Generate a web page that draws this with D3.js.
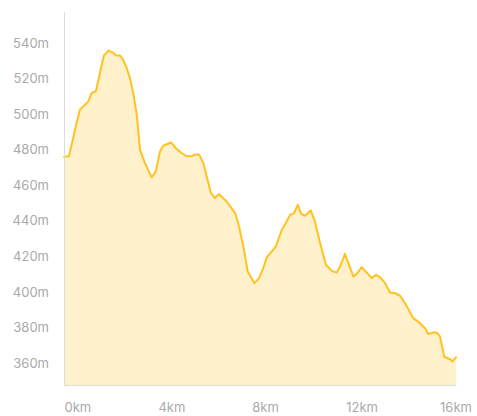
<!DOCTYPE html>
<html>
<head>
<meta charset="utf-8">
<script src="https://cdn.jsdelivr.net/npm/d3@7"></script>
<style>
  html, body { margin: 0; padding: 0; background: #fff; }
  svg { display: block; }
  text { font-family: Inter, "Liberation Sans", Arial, sans-serif; font-size: 13px; fill: #aaaaaa; }
</style>
</head>
<body>
<svg id="chart" width="477" height="416"></svg>
<script>
const distanceKm = [0.00,0.21,0.47,0.68,0.82,1.04,1.18,1.36,1.53,1.70,1.89,2.07,2.22,2.39,2.53,2.67,2.81,2.95,3.10,3.24,3.45,3.74,3.91,4.09,4.23,4.56,4.80,5.01,5.23,5.44,5.58,5.75,5.94,6.08,6.26,6.43,6.60,6.93,7.29,7.46,7.64,7.83,8.11,8.31,8.49,8.64,8.85,9.02,9.28,9.45,9.63,9.80,9.96,10.10,10.27,10.51,10.69,10.91,11.16,11.41,11.62,11.76,11.97,12.33,12.50,12.68,12.90,13.11,13.29,13.46,13.68,13.89,14.10,14.32,14.53,14.88,15.17,15.38,15.52,15.73,15.88,16.02,16.20,16.45,16.54,16.70];
const elevationM = [476.0,476.2,491.2,502.5,504.3,507.1,511.9,512.8,523.1,532.9,535.7,534.7,532.9,532.9,530.2,525.9,520.3,511.9,499.6,479.9,472.4,464.3,467.7,479.0,482.2,484.0,480.3,478.1,476.2,476.2,477.3,477.3,472.4,464.9,455.6,452.7,455.0,450.8,444.3,436.7,425.5,411.4,404.9,407.7,413.3,419.5,422.7,425.5,434.9,438.7,443.3,444.3,449.0,443.9,442.8,445.8,439.6,427.4,415.2,411.8,410.8,414.2,421.4,408.6,410.5,413.9,410.8,407.7,409.5,408.3,404.9,399.6,399.2,397.7,393.6,385.2,382.4,379.5,376.3,377.1,377.1,374.8,363.5,362.1,360.7,363.2];
const xTicks = [0, 4, 8, 12, 16];
const yTicks = [360, 380, 400, 420, 440, 460, 480, 500, 520, 540];
const xTickLabel = d => d + "km";
const yTickLabel = d => d + "m";

(function () {
const data = distanceKm.map((d, i) => ({ km: d, m: elevationM[i] }));

const svg = d3.select("#chart");
const pLeft = 64, pRight = 456, pTop = 12, pBottom = 385;

const x = d3.scaleLinear().domain([0, 16.7]).range([pLeft, pRight]);
const y = d3.scaleLinear().domain([347.6, 557.4]).range([pBottom, pTop]);

const area = d3.area().x(d => x(d.km)).y0(pBottom).y1(d => y(d.m));
svg.append("path").datum(data).attr("d", area).attr("fill", "#fff1cc");

const line = d3.line().x(d => x(d.km)).y(d => y(d.m));
svg.append("path").datum(data).attr("d", line)
  .attr("fill", "none").attr("stroke", "#ffc21f").attr("stroke-width", 2)
  .attr("stroke-linejoin", "round").attr("stroke-linecap", "round");

svg.append("line").attr("x1", pLeft + 0.5).attr("x2", pLeft + 0.5).attr("y1", pTop).attr("y2", pBottom)
  .attr("stroke", "#dcdcdc").attr("stroke-width", 1);
svg.append("line").attr("x1", pLeft).attr("x2", pRight).attr("y1", pBottom + 0.5).attr("y2", pBottom + 0.5)
  .attr("stroke", "#dcdcdc").attr("stroke-width", 1);

const yAxis = d3.axisLeft(y).tickValues(yTicks).tickFormat(yTickLabel).tickSize(0).tickPadding(15);
const gy = svg.append("g").attr("transform", `translate(${pLeft},0)`).call(yAxis);
gy.select(".domain").remove();
gy.selectAll("text").attr("fill", "#aaaaaa").style("font-size", "13px")
  .style("font-family", 'Inter, "Liberation Sans", Arial, sans-serif');

const xAxis = d3.axisBottom(x).tickValues(xTicks).tickFormat(xTickLabel).tickSize(0).tickPadding(18);
const gx = svg.append("g").attr("transform", `translate(0,${pBottom})`).call(xAxis);
gx.select(".domain").remove();
gx.selectAll("text").attr("fill", "#aaaaaa").attr("text-anchor", "start").style("font-size", "13px")
  .style("font-family", 'Inter, "Liberation Sans", Arial, sans-serif');
})();
</script>
</body>
</html>
